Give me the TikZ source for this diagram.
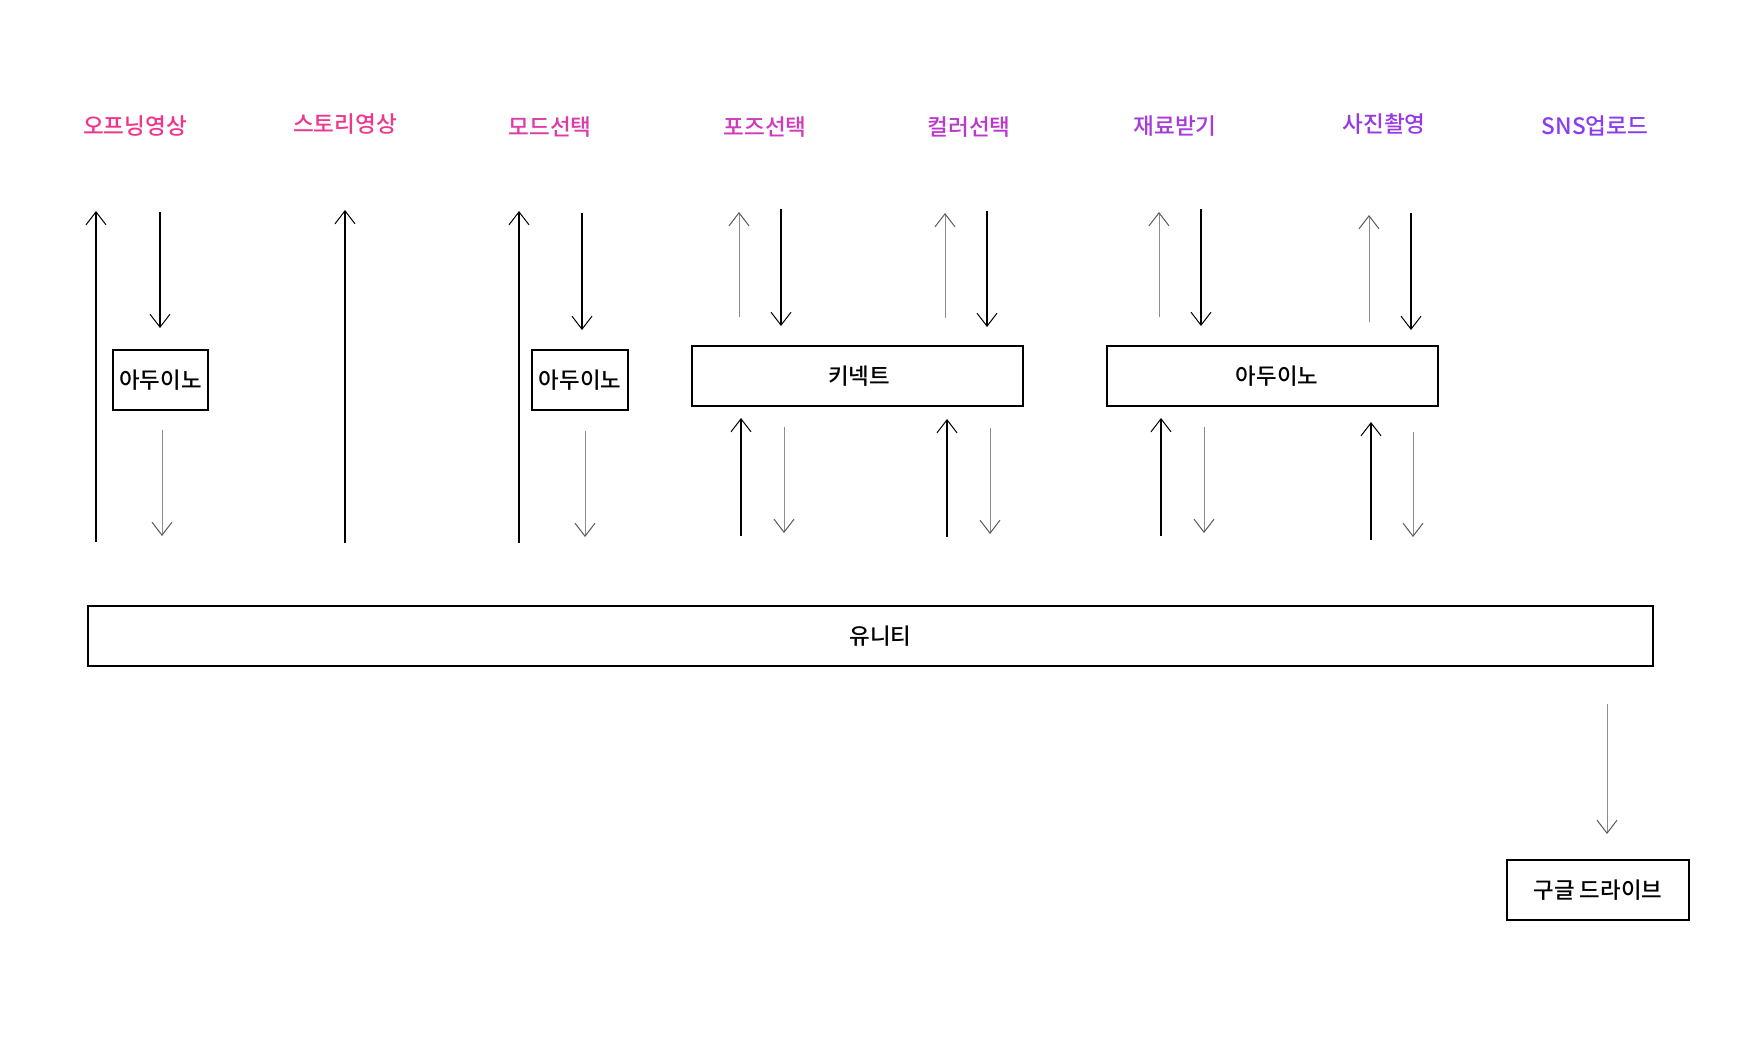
\documentclass[tikz,border=0pt]{standalone}
\usepackage{fontspec}
\setmainfont{Noto Sans CJK KR}
\newfontfamily\hdfont{Noto Sans CJK KR Medium}
\usetikzlibrary{arrows.meta}

\definecolor{hdA}{RGB}{240,52,138}
\definecolor{hdB}{RGB}{236,56,142}
\definecolor{hdC}{RGB}{222,58,168}
\definecolor{hdD}{RGB}{208,58,188}
\definecolor{hdE}{RGB}{186,56,206}
\definecolor{hdF}{RGB}{168,60,218}
\definecolor{hdG}{RGB}{150,58,228}
\definecolor{hdH}{RGB}{138,60,242}
\definecolor{lnGray}{RGB}{140,140,140}

\tikzset{
  hd/.style={font=\hdfont\fontsize{11.3pt}{13pt}\selectfont, inner sep=0pt},
  box/.style={draw, line width=0.7pt, minimum height=30pt, inner sep=0pt,
    text height=9.5pt, text depth=1pt,
    font=\hdfont\fontsize{11.2pt}{13pt}\selectfont},
  blk/.style={line width=0.75pt, -{Straight Barb[length=6.5pt,width=10pt,line width=0.5pt]}},
  gry/.style={lnGray, line width=0.5pt, -{Straight Barb[length=6.5pt,width=10pt,line width=0.5pt,color=black!65]}}
}

\begin{document}
\begin{tikzpicture}[x=0.5pt,y=-0.5pt]
    \useasboundingbox (0,0) rectangle (1750,1062);
    % stage labels
    \node[hd, text=hdA] (opening) at (135,126) {오프닝영상};
    \node[hd, text=hdB] (story) at (345,124) {스토리영상};
    \node[hd, text=hdC] (mode) at (550,127) {모드선택};
    \node[hd, text=hdD] (pose) at (765,127) {포즈선택};
    \node[hd, text=hdE] (color) at (969,127) {컬러선택};
    \node[hd, text=hdF] (stuff) at (1175,126) {재료받기};
    \node[hd, text=hdG] (photo) at (1384,124) {사진촬영};
    \node[hd, text=hdH] (sns) at (1595,126) {SNS업로드};
    % devices
    \node[box, minimum width=47.5pt] (ard1) at (160.5,380) {아두이노};
    \node[box, minimum width=48pt] (ard2) at (580,380) {아두이노};
    \node[box, minimum width=165.5pt] (kinect) at (857.5,376) {\hspace*{1.5pt}키넥트};
    \node[box, minimum width=165.5pt] (ard3) at (1272.5,376) {\hspace*{4.5pt}아두이노};
    \node[box, minimum width=782.5pt] (unity) at (870.5,636) {\hspace*{10pt}유니티};
    \node[box, minimum width=91pt] (gdrive) at (1598,890) {구글 드라이브};
    % signal arrows
    \foreach \x/\ya/\yb/\s [count=\i] in {
        96/542/211/blk, 160/212/328/blk, 162/430/536/gry,
        345/543/210/blk,
        519/543/211/blk, 582/213/330/blk, 585/431/537/gry,
        739/317/212/gry, 781/209/326/blk, 741/536/418/blk, 784/427/533/gry,
        945/318/213/gry, 987/211/327/blk, 947/537/419/blk, 990/428/534/gry,
        1159/317/212/gry, 1201/209/326/blk, 1161/536/418/blk, 1204/427/533/gry,
        1369/322/215/gry, 1411/213/330/blk, 1371/540/422/blk, 1413/432/537/gry,
        1607/704/834/gry}{
      \coordinate (s\i) at (\x,\ya);
      \coordinate (e\i) at (\x,\yb);
      \draw[\s] (s\i) -- (e\i);
    }
\end{tikzpicture}
\end{document}
